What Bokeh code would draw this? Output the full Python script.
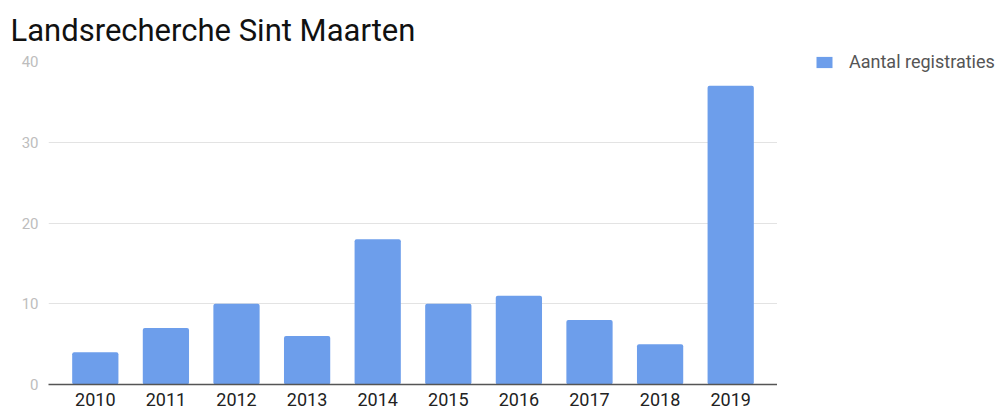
from bokeh.plotting import figure
from bokeh.layouts import row, column
from bokeh.models import FactorRange, Range1d, ColumnDataSource, Legend, LegendItem, FixedTicker, Spacer
from bokeh.embed import file_html
from bokeh.resources import INLINE

years = ["2010", "2011", "2012", "2013", "2014", "2015", "2016", "2017", "2018", "2019"]
registraties = [4, 7, 10, 6, 18, 10, 11, 8, 5, 37]
y_ticks = [0, 10, 20, 30, 40]
series_name = "Aantal registraties"
title_text = "Landsrecherche Sint Maarten"
bar_color = "#6d9eeb"

source = ColumnDataSource(data=dict(year=years, value=registraties))

p = figure(
    width=777, height=408,
    x_range=FactorRange(factors=years, range_padding=0.163, range_padding_units="absolute"),
    y_range=Range1d(0, 40),
    output_backend="svg", toolbar_location=None,
    min_border_left=48, min_border_right=0, min_border_top=61, min_border_bottom=24,
)

r = p.vbar(x="year", top="value", width=0.655, source=source,
           fill_color=bar_color, line_color=None, border_radius=2)

# Title
p.title.text = title_text
p.title.text_font = "Roboto"
p.title.text_font_style = "normal"
p.title.text_font_size = "31px"
p.title.text_color = "#111111"
p.title.align = "left"
p.title.vertical_align = "top"
p.title.offset = -38
p.title.standoff = 22

# Axes
p.outline_line_color = None
p.xgrid.grid_line_color = None
p.ygrid.grid_line_color = "#e3e3e3"
p.ygrid.grid_line_width = 1

p.yaxis.ticker = FixedTicker(ticks=y_ticks)
p.yaxis.axis_line_color = None
p.yaxis.major_tick_line_color = None
p.yaxis.minor_tick_line_color = None
p.yaxis.major_tick_out = 0
p.yaxis.minor_tick_out = 0
p.yaxis.major_label_text_font = "Roboto"
p.yaxis.major_label_text_font_size = "15px"
p.yaxis.major_label_text_color = "#bdbdbd"
p.yaxis.major_label_standoff = 10

p.xaxis.axis_line_color = "#555555"
p.xaxis.axis_line_width = 1.5
p.xaxis.major_tick_line_color = None
p.xaxis.minor_tick_line_color = None
p.xaxis.major_tick_out = 0
p.xaxis.minor_tick_out = 0
p.xaxis.major_label_text_font = "Roboto"
p.xaxis.major_label_text_font_size = "18px"
p.xaxis.major_label_text_color = "#222222"
p.xaxis.major_label_standoff = 8

# Legend panel (separate figure to the right of the chart)
lg = figure(width=226, height=357, x_range=Range1d(0, 1), y_range=Range1d(0, 1),
            title=None, output_backend="svg", toolbar_location=None,
            x_axis_type=None, y_axis_type=None,
            min_border_left=37, min_border_right=0, min_border_top=0, min_border_bottom=0)
lg.outline_line_color = None
lg.xgrid.grid_line_color = None
lg.ygrid.grid_line_color = None
lr = lg.vbar(x=[0.5], top=[0], width=0.0, fill_color=bar_color, line_color=None)

legend = Legend(items=[LegendItem(label=series_name, renderers=[lr])],
                location="top_left", orientation="vertical",
                padding=0, margin=0, spacing=0,
                glyph_width=20, glyph_height=14, label_height=20,
                label_standoff=15,
                label_text_font="Roboto", label_text_font_size="18px",
                label_text_color="#555555",
                border_line_color=None, background_fill_alpha=0)
lg.add_layout(legend, "center")

layout = row(p, column(Spacer(width=226, height=51), lg, spacing=0), spacing=0)
open("out.html", "w").write(file_html(layout, INLINE))
